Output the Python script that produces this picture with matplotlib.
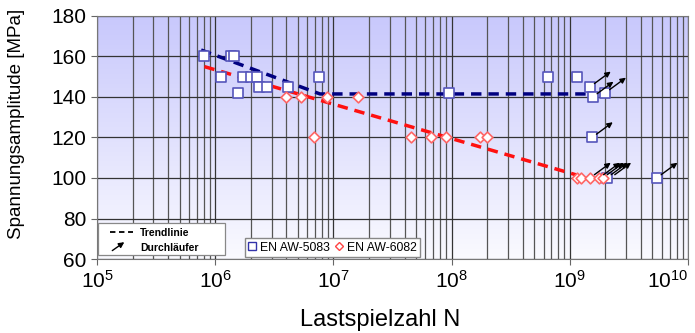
import numpy as np
import matplotlib
matplotlib.use("Agg")
import matplotlib.pyplot as plt
from matplotlib.lines import Line2D
from matplotlib.patches import Rectangle

plt.rcParams['font.family'] = ['Liberation Sans', 'DejaVu Sans']

# EN AW-5083 (squares)
n_5083 = [8.1e5, 1.35e6, 1.44e6, 1.13e6, 1.57e6, 1.73e6, 2.01e6, 2.24e6, 2.33e6, 2.73e6,
          4.16e6, 7.55e6, 9.5e7, 6.5e8, 1.14e9, 1.48e9, 1.56e9, 1.99e9, 1.54e9, 2.05e9, 5.43e9]
s_5083 = [160, 160, 160, 150, 142, 150, 150, 150, 145, 145,
          145, 150, 142, 150, 150, 145, 140, 142, 120, 100, 100]

# EN AW-6082 (diamonds)
n_6082 = [3.94e6, 5.35e6, 6.9e6, 8.87e6, 1.63e7, 4.5e7, 6.7e7, 8.9e7, 1.74e8, 2.0e8,
          1.14e9, 1.24e9, 1.48e9, 1.77e9, 1.9e9]
s_6082 = [140, 140, 120, 140, 140, 120, 120, 120, 120, 120,
          100, 100, 100, 100, 100]

# Durchlaeufer (runouts)
run_n = [1.48e9, 1.56e9, 1.99e9, 1.54e9, 2.05e9, 5.43e9, 1.48e9, 1.77e9, 1.9e9, 2.2e9]
run_s = [145, 140, 142, 120, 100, 100, 100, 100, 100, 100]

# Trendlinien
trend_5083_n = [7.6e5, 7.7e6, 1.45e9]
trend_5083_s = [163.2, 141.5, 141.5]
trend_6082_n = [8.1e5, 1.14e9]
trend_6082_s = [155, 101.5]

fig = plt.figure(figsize=(6.95, 3.33), dpi=100)
ax = fig.add_axes([0.1396, 0.2222, 0.8503, 0.7298])

# background gradient
grad = np.linspace(0, 1, 256).reshape(-1, 1)
top = np.array([200, 200, 252]) / 255
bot = np.array([250, 250, 255]) / 255
img = top * (1 - grad)[..., None] + bot * grad[..., None]
img = img.reshape(256, 1, 3)
ax.imshow(img, extent=[0, 1, 0, 1], transform=ax.transAxes, aspect='auto', zorder=0)

ax.set_xscale('log')
ax.set_xlim(1e5, 1e10)
ax.set_ylim(60, 180)
ax.set_yticks(range(60, 181, 20))
ax.grid(True, which='major', color='#333333', lw=0.9, zorder=1)
ax.grid(True, which='minor', axis='x', color='#555555', lw=0.9, zorder=1)
ax.tick_params(which='minor', length=0)
ax.tick_params(which='major', labelsize=15, length=4, color='#666666')
for sp in ax.spines.values():
    sp.set_color('#777777')

ax.plot(trend_5083_n, trend_5083_s, color='#000080', lw=2.5, ls=(0, (3, 2)), zorder=3)
ax.plot(trend_6082_n, trend_6082_s, color='#ff1010', lw=2.5, ls=(0, (3, 2)), zorder=3)

for n, s in zip(run_n, run_s):
    ax.annotate('', xy=(n, s), xytext=(15, 11), textcoords='offset points',
                arrowprops=dict(arrowstyle='<|-', color='black', lw=1.0,
                                mutation_scale=8, shrinkA=0, shrinkB=4), zorder=5)

ax.scatter(n_5083, s_5083, marker='s', s=42, facecolor='white',
           edgecolor='#5555bb', lw=1.2, zorder=4)
ax.scatter(n_6082, s_6082, marker='D', s=30, facecolor='white',
           edgecolor='#ff6666', lw=1.2, zorder=4)

ax.set_xlabel('Lastspielzahl N', fontsize=17)
ax.xaxis.set_label_coords(0.479, -0.205)
ax.set_ylabel('Spannungsamplitude [MPa]', fontsize=13.5)
ax.yaxis.set_label_coords(-0.122, 0.556)

fig.canvas.draw()
for lbl in ax.get_xticklabels():
    if lbl.get_text().endswith('{10}}$'):
        lbl.set_ha('right')

# box 1: Trendlinie / Durchlaeufer
ax.add_patch(Rectangle((0.002, 0.016), 0.215, 0.132, transform=ax.transAxes,
                       facecolor='white', edgecolor='#888888', lw=0.9, zorder=8))
ax.add_line(Line2D([0.022, 0.061], [0.111, 0.111], transform=ax.transAxes,
                   color='black', ls=(0, (3, 2)), lw=1.3, zorder=9))
ax.text(0.073, 0.109, 'Trendlinie', transform=ax.transAxes, fontsize=7.5,
        fontweight='bold', va='center', zorder=9)
ax.text(0.073, 0.047, 'Durchläufer', transform=ax.transAxes, fontsize=7.5,
        fontweight='bold', va='center', zorder=9)
ax.annotate('', xy=(0.05, 0.076), xytext=(0.022, 0.028), xycoords='axes fraction',
            arrowprops=dict(arrowstyle='-|>', color='black', lw=1.0, mutation_scale=8),
            zorder=10)

# legend 2: materials
leg2_handles = [Line2D([], [], marker='s', ls='', mfc='white', mec='#3333aa', ms=5.5),
                Line2D([], [], marker='D', ls='', mfc='white', mec='#ff4444', ms=4.5)]
ax.legend(leg2_handles, ['EN AW-5083', 'EN AW-6082'], loc='lower left',
          bbox_to_anchor=(0.24, -0.018), ncol=2, fancybox=False, edgecolor='#888888',
          framealpha=1, fontsize=8.8, handlelength=0.6, handletextpad=0.3,
          columnspacing=0.5, borderpad=0.3)

fig.savefig('out.png', dpi=100)
